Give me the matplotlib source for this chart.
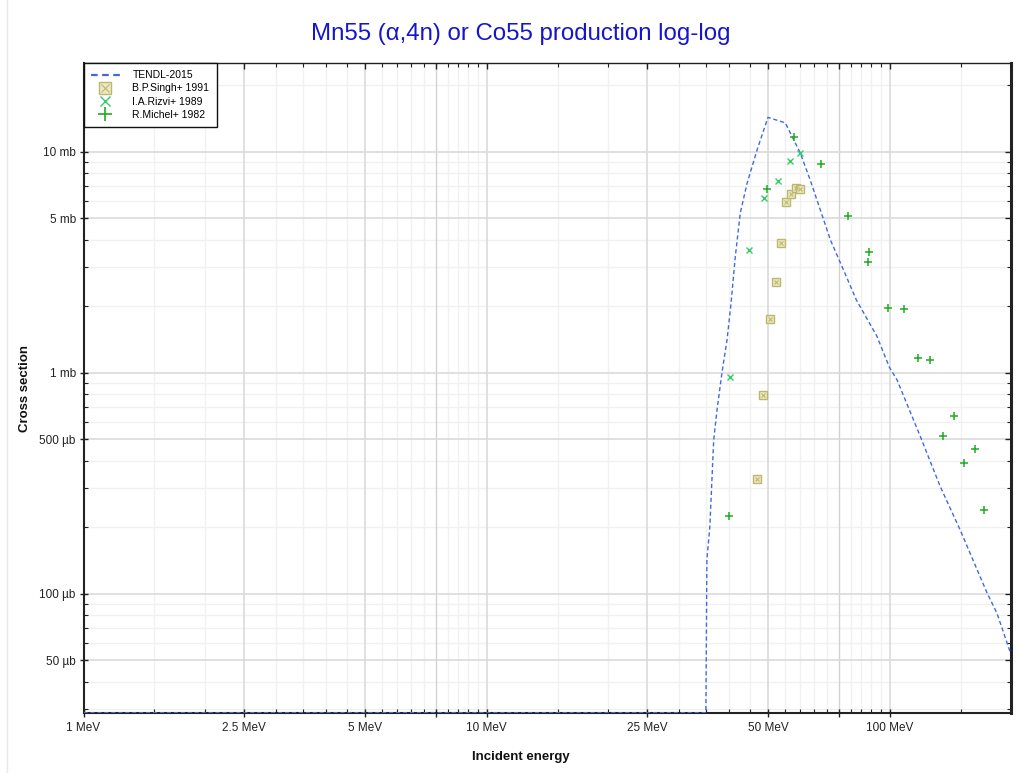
import numpy as np
import matplotlib
matplotlib.use("Agg")
import matplotlib.pyplot as plt
from matplotlib.lines import Line2D
from matplotlib.ticker import FixedLocator, FixedFormatter, NullFormatter
from matplotlib.legend_handler import HandlerTuple

plt.rcParams['font.family'] = ['Liberation Sans', 'DejaVu Sans']

# ---------------- data ----------------
title = "Mn55 (\u03b1,4n) or Co55 production log-log"
x_label = "Incident energy"
y_label = "Cross section"

# TENDL-2015 evaluation (energy in MeV, cross section in mb)
tendl_E = [1.0, 35.0, 35.2, 35.8, 36.6, 37.3, 38.4, 39.5, 40.4, 41.4, 42.6, 44.3,
           46.9, 49.9, 55.1, 56.7, 60.0, 63.5, 67.3, 71.3, 76.8, 82.7, 93.0,
           99.8, 104.3, 119.2, 133.5, 149.6, 174.5, 184.6, 199.3]
tendl_xs = [0.0, 0.0, 0.142, 0.201, 0.496, 0.678, 1.01, 1.41, 2.05, 3.35, 5.28, 7.21,
            10.2, 14.3, 13.5, 12.15, 9.87, 7.45, 5.45, 3.98, 2.92, 2.13, 1.46,
            1.06, 0.927, 0.513, 0.305, 0.194, 0.1005, 0.0815, 0.054]

singh_E = [46.9, 48.6, 50.4, 52.1, 53.8, 55.4, 57.0, 58.4, 60.0]
singh_xs = [0.330, 0.791, 1.75, 2.57, 3.85, 5.94, 6.41, 6.87, 6.76]

rizvi_E = [40.25, 44.7, 48.9, 52.7, 56.5, 59.8]
rizvi_xs = [0.959, 3.59, 6.17, 7.39, 9.08, 9.83]

michel_E = [39.9, 49.6, 57.8, 67.7, 78.9, 88.7, 88.5, 98.9, 108.3, 117.6, 126.0,
            135.4, 144.7, 153.0, 162.5, 171.2]
michel_xs = [0.225, 6.76, 11.6, 8.83, 5.10, 3.53, 3.16, 1.96, 1.95, 1.17, 1.14,
             0.519, 0.639, 0.390, 0.450, 0.240]

series_names = ["TENDL-2015", "B.P.Singh+ 1991", "I.A.Rizvi+ 1989", "R.Michel+ 1982"]

x_major = [1, 2.5, 5, 7.5, 10, 25, 50, 75, 100]
x_major_labels = ["1 MeV", "2.5 MeV", "5 MeV", "", "10 MeV", "25 MeV", "50 MeV", "", "100 MeV"]
x_minor = [1.5, 2, 3, 3.5, 4, 4.5, 5.5, 6, 6.5, 7, 8, 8.5, 9, 9.5, 15, 20, 30, 35, 40, 45,
           55, 60, 65, 70, 80, 85, 90, 95, 150]

y_major = [0.05, 0.1, 0.5, 1, 5, 10]
y_major_labels = ["50 \u00b5b", "100 \u00b5b", "500 \u00b5b", "1 mb", "5 mb", "10 mb"]
y_minor = [0.03, 0.04, 0.06, 0.07, 0.08, 0.09, 0.2, 0.3, 0.4, 0.6, 0.7, 0.8, 0.9,
           2, 3, 4, 6, 7, 8, 9, 20]

x_range = (1.0, 200.0)
y_range = (0.0289, 25.2)

# ---------------- figure ----------------
W, H = 1022, 773
fig = plt.figure(figsize=(W / 100, H / 100), dpi=100)
ax = fig.add_axes([83.5 / W, 1 - 712.7 / H, (1011 - 83.5) / W, (712.7 - 63) / H])
ax.set_xscale('log')
ax.set_yscale('log')
ax.set_xlim(*x_range)
ax.set_ylim(*y_range)

# grid
for v in x_minor:
    ax.axvline(v, color='#f1f1f1', lw=1, zorder=0)
for v in y_minor:
    ax.axhline(v, color='#f1f1f1', lw=1, zorder=0)
for v in x_major:
    if v in (7.5, 75):
        ax.axvline(v, color='#d2d2d2', lw=1, zorder=0.5)
    else:
        ax.axvline(v, color='#dadada', lw=1.2, zorder=0.5)
for v in y_major:
    ax.axhline(v, color='#dadada', lw=1.2, zorder=0.5)

# TENDL curve (zero values shown on the bottom edge)
tx = np.array(tendl_E)
ty = np.clip(np.array(tendl_xs), y_range[0], None)
tendl_color = '#4169E1'
ax.plot(tx, ty, color=tendl_color, lw=1.0, ls=(0, (3, 2)), zorder=3, clip_on=True)

# experimental data
singh_edge = '#BDB76B'
singh_face = '#ECE8C8'
ax.plot(singh_E, singh_xs, ls='none', marker='s', ms=5.5, mec=singh_edge, mfc=singh_face,
        mew=1.0, zorder=4)
ax.plot(singh_E, singh_xs, ls='none', marker='x', ms=3.5, mec=singh_edge, mew=0.8, zorder=5)

rizvi_color = '#33CC66'
ax.plot(rizvi_E, rizvi_xs, ls='none', marker='x', ms=4, mec=rizvi_color, mew=1.0, zorder=4)

michel_color = '#22AA22'
ax.plot(michel_E, michel_xs, ls='none', marker='+', ms=6, mec=michel_color, mew=1.1, zorder=4)

# ticks
ax.xaxis.set_major_locator(FixedLocator(x_major))
ax.xaxis.set_major_formatter(FixedFormatter(x_major_labels))
ax.xaxis.set_minor_locator(FixedLocator(x_minor))
ax.xaxis.set_minor_formatter(NullFormatter())
ax.yaxis.set_major_locator(FixedLocator(y_major))
ax.yaxis.set_major_formatter(FixedFormatter(y_major_labels))
ax.yaxis.set_minor_locator(FixedLocator(y_minor))
ax.yaxis.set_minor_formatter(NullFormatter())

ax.tick_params(which='major', direction='inout', length=6, width=1.0, color='#222222',
               labelsize=8.5, labelcolor='#222222', pad=2.5,
               top=True, right=True)
ax.tick_params(which='minor', direction='in', length=3, width=0.8, color='#222222',
               top=True, right=True)
ax.tick_params(axis='x', which='major', pad=4)
for t in ax.xaxis.get_major_ticks():
    t.tick2line.set_marker(3)
    t.tick2line.set_markersize(4)
for t in ax.yaxis.get_major_ticks():
    t.tick2line.set_marker(0)
    t.tick2line.set_markersize(4)

for side, lw in (('left', 1.5), ('bottom', 1.5), ('right', 2.2), ('top', 1.0)):
    ax.spines[side].set_color('#222222')
    ax.spines[side].set_linewidth(lw)

# labels
fig.text(521 / W, 1 - 34 / H, title, color='#1515CC', fontsize=17.3, ha='center', va='center')
fig.text(521 / W, 1 - 757 / H, x_label, color='#111111', fontsize=9.5, fontweight='bold',
         ha='center', va='center')
fig.text(25 / W, 1 - 388 / H, y_label, color='#111111', fontsize=9.5, fontweight='bold',
         ha='center', va='center', rotation=90)

# legend with proxy handles
h_tendl = Line2D([], [], color=tendl_color, lw=1.6, ls=(0, (3, 2)))
h_singh = (Line2D([], [], ls='none', marker='s', ms=8, mec=singh_edge, mfc=singh_face, mew=1.0),
           Line2D([], [], ls='none', marker='x', ms=6, mec=singh_edge, mew=0.8))
h_rizvi = Line2D([], [], ls='none', marker='x', ms=7, mec=rizvi_color, mew=1.0)
h_michel = Line2D([], [], ls='none', marker='+', ms=10, mec=michel_color, mew=1.2)
leg = ax.legend([h_tendl, h_singh, h_rizvi, h_michel], series_names,
                loc='upper left', bbox_to_anchor=(0, 1), borderaxespad=0,
                fontsize=7.5, frameon=True, fancybox=False, framealpha=1,
                edgecolor='#111111', handlelength=2.8, handletextpad=1.2,
                labelspacing=0.3, borderpad=0.7,
                handler_map={tuple: HandlerTuple(ndivide=1, pad=0)})
leg.get_frame().set_linewidth(1.0)
leg.set_zorder(10)

# faint border line at the left of the figure
fig.add_artist(Line2D([7 / W, 7 / W], [0, 1], color='#e8e8e8', lw=1))

fig.savefig('out.png', dpi=100, facecolor='white')
